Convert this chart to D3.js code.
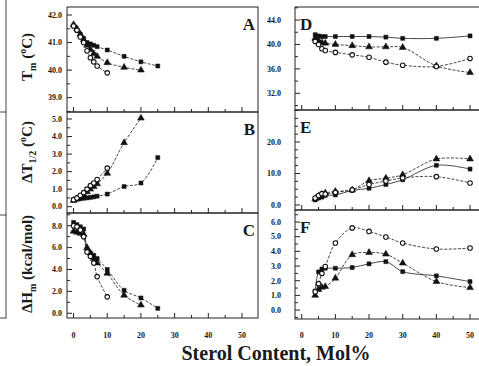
<!DOCTYPE html>
<html><head><meta charset="utf-8">
<script src="https://cdn.jsdelivr.net/npm/d3@7"></script>
<style>body{margin:0;background:#fff}svg{display:block}</style>
</head><body>
<svg id="c" width="479" height="366"></svg>
<script>
// ---------- DATA ----------
const xTickValues = [0, 10, 20, 30, 40, 50];
const xLeft  = [0, 1, 2, 3, 4, 5, 6, 7, 10, 15, 20, 25];
const xRight = [4, 5, 6, 7, 10, 15, 20, 25, 30, 40, 50];

// Panel A: Tm (°C)
const aTicks = [39, 40, 41, 42];
const tmSquare   = [41.6, 41.45, 41.3, 41.15, 41.0, 40.95, 40.9, 40.85, 40.73, 40.5, 40.3, 40.15];
const tmTriangle = [41.65, 41.5, 41.3, 41.1, 40.9, 40.75, 40.6, 40.5, 40.27, 40.1, 40.0];
const tmCircle   = [41.6, 41.45, 41.2, 41.0, 40.7, 40.45, 40.3, 40.15, 39.9];

// Panel B: ΔT1/2 (°C)
const bTicks = [0, 1, 2, 3, 4, 5];
const dtSquare   = [0.4, 0.42, 0.45, 0.48, 0.5, 0.53, 0.56, 0.6, 0.72, 1.15, 1.35, 2.8];
const dtTriangle = [0.35, 0.45, 0.55, 0.7, 0.85, 1.0, 1.15, 1.3, 1.9, 3.65, 5.05];
const dtCircle   = [0.4, 0.5, 0.65, 0.8, 1.0, 1.2, 1.35, 1.55, 2.2];

// Panel C: ΔHm (kcal/mol)
const cTicks = [0, 2, 4, 6, 8];
const dhSquare   = [8.3, 8.1, 7.9, 7.7, 5.8, 5.5, 5.3, 5.0, 4.0, 2.1, 1.4, 0.45];
const dhTriangle = [7.5, 7.4, 7.3, 7.2, 6.0, 5.5, 5.0, 4.6, 3.65, 1.65, 0.75];
const dhCircle   = [8.0, 7.9, 7.6, 7.0, 5.6, 5.2, 4.6, 3.35, 1.5];

// Panel D: Tm (°C)
const dTicks = [32, 36, 40, 44];
const tm2Square   = [41.6, 41.4, 41.3, 41.3, 41.3, 41.3, 41.3, 41.2, 41.0, 41.0, 41.4];
const tm2Triangle = [41.0, 40.6, 40.3, 40.2, 40.0, 39.8, 39.6, 39.6, 39.5, 36.5, 35.4];
const tm2Circle   = [40.5, 40.0, 39.3, 39.0, 38.7, 38.3, 37.9, 37.1, 36.6, 36.4, 37.7];

// Panel E: ΔT1/2 (°C)
const eTicks = [0, 10, 20];
const dt2Triangle = [2.0, 2.8, 3.3, 3.8, 4.3, 4.8, 7.7, 8.5, 9.6, 14.6, 14.6];
const dt2Square   = [1.6, 2.2, 2.5, 3.0, 3.2, 4.6, 5.3, 6.5, 8.0, 12.6, 11.4];
const dt2Circle   = [2.2, 3.0, 3.6, 3.5, 4.0, 4.8, 6.5, 7.6, 8.6, 9.0, 7.0];

// Panel F: ΔHm (kcal/mol)
const fTicks = [0, 1, 2, 3, 4, 5, 6];
const dh2Circle   = [1.25, 1.8, 2.5, 2.97, 4.57, 5.6, 5.36, 4.98, 4.57, 4.16, 4.23];
const dh2Triangle = [1.0, 1.4, 1.55, 1.6, 2.17, 3.77, 3.92, 3.81, 3.2, 1.94, 1.53];
const dh2Square   = [1.3, 2.6, 2.8, 2.85, 2.85, 2.9, 3.15, 3.3, 2.62, 2.33, 1.94];

const xTitle = "Sterol Content, Mol%";

// ---------- LAYOUT ----------
const svg = d3.select("#c");
const FONT = "'Liberation Serif','Times New Roman',serif";
const INK = "#1a1a1a";

const left  = {x0: 67, x1: 258, domain: [-1.95, 54.75], labelX: 62};
const right = {x0: 295, x1: 500, domain: [-1.99, 58.9], labelX: 281};

const panels = [
  {col: left,  top: 7,   bottom: 112, dom: [38.48, 42.29], ticks: aTicks, minor: 0.5, xs: xLeft,
   series: [[tmSquare, "square"], [tmTriangle, "triangle"], [tmCircle, "circle"]], letter: "A"},
  {col: left,  top: 112, bottom: 213, dom: [-0.36, 5.40], ticks: bTicks, minor: 0.5, xs: xLeft,
   series: [[dtSquare, "square"], [dtTriangle, "triangle"], [dtCircle, "circle"]], letter: "B"},
  {col: left,  top: 213, bottom: 318, dom: [-0.43, 9.16], ticks: cTicks, minor: 1, xs: xLeft,
   series: [[dhSquare, "square"], [dhTriangle, "triangle"], [dhCircle, "circle"]], letter: "C", xlabels: true},
  {col: right, top: 7,   bottom: 110, dom: [29.27, 46.13], ticks: dTicks, minor: 2, xs: xRight,
   series: [[tm2Square, "square"], [tm2Triangle, "triangle"], [tm2Circle, "circle"]], letter: "D"},
  {col: right, top: 110, bottom: 210, dom: [-1.59, 30.16], ticks: eTicks, minor: 2.5, xs: xRight,
   series: [[dt2Square, "square"], [dt2Triangle, "triangle"], [dt2Circle, "circle"]], letter: "E"},
  {col: right, top: 210, bottom: 319, dom: [-0.61, 6.82], ticks: fTicks, minor: 0.5, xs: xRight,
   series: [[dh2Square, "square"], [dh2Triangle, "triangle"], [dh2Circle, "circle"]], letter: "F", xlabels: true}
];

// cropped neighbouring frame on far left
svg.append("line").attr("x1", 6).attr("x2", 6).attr("y1", 0).attr("y2", 318).attr("stroke", "#444").attr("stroke-width", 1);
[112, 215, 318].forEach(y => svg.append("line").attr("x1", 0).attr("x2", 6.5).attr("y1", y).attr("y2", y).attr("stroke", "#444"));

const symbols = {square: d3.symbolSquare, triangle: d3.symbolTriangle, circle: d3.symbolCircle};

panels.forEach(p => {
  const c = p.col;
  const x = d3.scaleLinear().domain(c.domain).range([c.x0, c.x1]);
  const y = d3.scaleLinear().domain(p.dom).range([p.bottom, p.top]);
  const g = svg.append("g");

  // frame
  g.append("rect").attr("x", c.x0).attr("y", p.top).attr("width", c.x1 - c.x0).attr("height", p.bottom - p.top)
    .attr("fill", "none").attr("stroke", "#222").attr("stroke-width", 1);

  // y ticks
  const yMin = Math.ceil(p.dom[0] / p.minor) * p.minor;
  d3.range(yMin, p.dom[1] + 1e-9, p.minor).forEach(v => {
    const isMajor = p.ticks.some(t => Math.abs(t - v) < 1e-6);
    g.append("line").attr("x1", c.x0).attr("x2", c.x0 + (isMajor ? 5 : 3))
      .attr("y1", y(v)).attr("y2", y(v)).attr("stroke", "#222").attr("stroke-width", 1);
  });
  g.selectAll("text.yl").data(p.ticks).join("text")
    .attr("x", c.labelX).attr("y", d => y(d)).attr("dy", "0.35em")
    .attr("text-anchor", "end").attr("font-family", FONT).attr("font-weight", "bold")
    .attr("font-size", 8).attr("fill", INK)
    .text(d => d3.format(".1f")(d));

  // x ticks
  d3.range(0, c.domain[1], 5).forEach(v => {
    const isMajor = v % 10 === 0;
    g.append("line").attr("x1", x(v)).attr("x2", x(v))
      .attr("y1", p.bottom).attr("y2", p.bottom - (isMajor ? 5 : 3)).attr("stroke", "#222").attr("stroke-width", 1);
  });
  if (p.xlabels) {
    g.selectAll("text.xl").data(xTickValues).join("text")
      .attr("x", d => x(d)).attr("y", 338).attr("text-anchor", "middle")
      .attr("font-family", FONT).attr("font-weight", "bold").attr("font-size", 8).attr("fill", INK)
      .text(d => d);
  }

  // series
  const line = d3.line().x(d => x(d[0])).y(d => y(d[1])).curve(d3.curveCatmullRom.alpha(0.5));
  p.series.forEach(([vals, shape], i) => {
    const pts = vals.map((v, k) => [p.xs[k], v]);
    g.append("path").attr("d", line(pts)).attr("fill", "none")
      .attr("stroke", "#333").attr("stroke-width", 0.9)
      .attr("stroke-dasharray", i === 0 && c === right ? null : "3,1.5");
    g.selectAll(null).data(pts).join("path")
      .attr("transform", d => `translate(${x(d[0])},${y(d[1])})`)
      .attr("d", d3.symbol().type(symbols[shape]).size(shape === "triangle" ? 20 : 16))
      .attr("fill", shape === "circle" ? "#fff" : "#111")
      .attr("stroke", "#111").attr("stroke-width", shape === "circle" ? 1.1 : 0.5);
  });

  // panel letter
  if (c === left) {
    g.append("text").attr("x", 255).attr("y", p.top + 23).attr("text-anchor", "end")
      .attr("font-family", FONT).attr("font-weight", "bold").attr("font-size", 17).attr("fill", INK).text(p.letter);
  } else {
    g.append("text").attr("x", 300).attr("y", p.top + 23)
      .attr("font-family", FONT).attr("font-weight", "bold").attr("font-size", 17).attr("fill", INK).text(p.letter);
  }
});

// y-axis titles
function ytitle(cy, parts) {
  const t = svg.append("text").attr("transform", `translate(32,${cy}) rotate(-90)`)
    .attr("text-anchor", "middle").attr("font-family", FONT).attr("font-weight", "bold")
    .attr("font-size", 15).attr("fill", INK);
  parts.forEach(([s, kind]) => {
    const ts = t.append("tspan").text(s);
    if (kind === "sub") ts.attr("font-size", 10).attr("dy", 4);
    else if (kind === "sup") ts.attr("font-size", 10).attr("dy", -6);
    else if (kind === "back") ts.attr("dy", -4);
    else if (kind === "backsup") ts.attr("dy", 6);
  });
}
ytitle(57, [["T"], ["m", "sub"], [" (", "back"], ["o", "sup"], ["C)", "backsup"]]);
ytitle(152, [["\u0394T"], ["1/2", "sub"], [" (", "back"], ["o", "sup"], ["C)", "backsup"]]);
ytitle(264, [["\u0394H"], ["m", "sub"], [" (kcal/mol)", "back"]]);

// x-axis title
svg.append("text").attr("x", 276).attr("y", 360).attr("text-anchor", "middle")
  .attr("font-family", FONT).attr("font-weight", "bold").attr("font-size", 20).attr("fill", INK)
  .text(xTitle);
</script>
</body></html>
